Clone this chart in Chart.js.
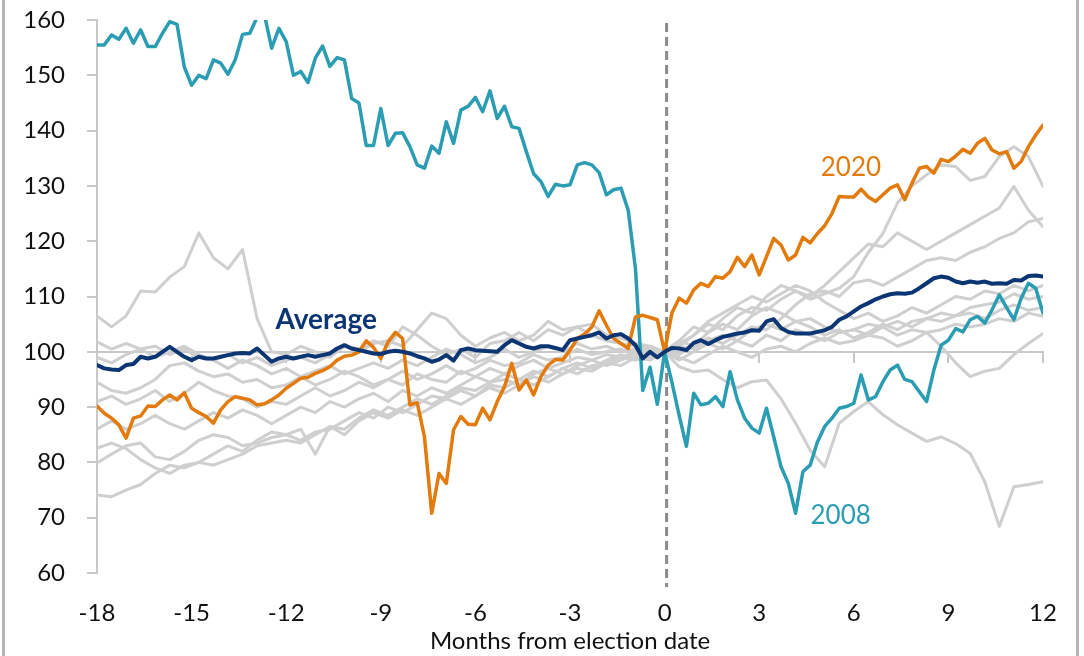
<!DOCTYPE html>
<html>
<head>
<meta charset="utf-8">
<script src="https://cdn.jsdelivr.net/npm/chart.js@4.4.1/dist/chart.umd.min.js"></script>
<style>
  html, body { margin: 0; padding: 0; background: #fff; }
  #wrap { position: relative; width: 1084px; height: 656px; }
  .edge { position: absolute; top: 0; width: 3px; height: 656px; background: #b4b4b4; }
</style>
</head>
<body>
<div id="wrap">
  <canvas id="chart" width="1084" height="656"></canvas>
  <div class="edge" style="left:2px"></div>
  <div class="edge" style="left:1076px"></div>
</div>
<script>
// weeks relative to election day: 78 weeks before (-18 months) to 52 after (+12 months)
const FIRST_WEEK = -78;
const LAST_WEEK = 52;
const WEEKS_PER_QUARTER = 13;
const electionWeek = 0;

const xTickLabels = ["-18", "-15", "-12", "-9", "-6", "-3", "0", "3", "6", "9", "12"];
const yMin = 60;
const yMax = 160;
const yStep = 10;
const xTitle = "Months from election date";

const weeklyX = [];
for (let w = FIRST_WEEK; w <= LAST_WEEK; w += 1) weeklyX.push(w);
const biweeklyX = [];
for (let w = FIRST_WEEK; w <= LAST_WEEK; w += 2) biweeklyX.push(w);

// highlighted cycles, weekly values (indexed, election day = 100)
const cycle2008 = [
  155.5, 155.5, 157.3, 156.5, 158.5, 155.8, 158.2, 155.2, 155.2, 157.6,
  159.7, 159.2, 151.5, 148.2, 150.0, 149.4, 152.8, 152.2, 150.2, 152.8,
  157.4, 157.6, 160.5, 161.0, 154.9, 158.5, 156.1, 150.0, 150.7, 148.7,
  153.1, 155.3, 151.6, 153.2, 152.8, 145.8, 145.0, 137.3, 137.3, 144.0,
  137.3, 139.5, 139.6, 137.1, 133.8, 133.2, 137.2, 135.9, 141.6, 137.7,
  143.7, 144.4, 146.0, 143.4, 147.2, 142.2, 144.4, 140.7, 140.4, 136.2,
  132.2, 130.8, 128.1, 130.3, 130.0, 130.2, 133.8, 134.2, 133.8, 132.4,
  128.4, 129.3, 129.6, 125.6, 115.0, 93.0, 97.2, 90.5, 100.0,
  94.5, 88.5, 82.9, 92.5, 90.4, 90.7, 91.9, 90.1, 96.4, 91.3,
  88.0, 86.2, 85.3, 89.8, 84.6, 79.2, 76.2, 70.8, 78.3, 79.5,
  83.7, 86.5, 88.0, 89.8, 90.1, 90.7, 95.8, 91.3, 91.9, 94.6,
  96.7, 97.6, 95.0, 94.6, 92.8, 91.0, 96.7, 101.2, 102.1, 104.2,
  103.6, 105.8, 106.4, 105.2, 107.6, 110.3, 108.0, 105.8, 109.7, 112.4,
  111.5, 107.0
];

const cycle2020 = [
  90.2, 88.9, 88.0, 86.8, 84.4, 88.0, 88.4, 90.2, 90.1, 91.3,
  92.2, 91.3, 92.6, 89.8, 89.0, 88.3, 87.1, 89.5, 91.0, 91.9,
  91.6, 91.3, 90.4, 90.6, 91.3, 92.2, 93.4, 94.3, 95.2, 95.4,
  96.1, 96.6, 97.3, 98.5, 99.2, 99.4, 100.0, 102.0, 100.8, 98.8,
  101.8, 103.5, 102.4, 90.4, 90.8, 84.6, 70.8, 78.0, 76.2, 85.9,
  88.3, 86.9, 86.8, 89.8, 87.7, 91.0, 93.7, 97.9, 93.1, 94.9,
  92.2, 95.5, 97.6, 98.6, 98.5, 100.3, 102.4, 103.2, 104.5, 107.4,
  104.8, 102.4, 101.5, 100.6, 106.3, 106.6, 106.2, 105.8, 100.0,
  107.0, 109.7, 108.8, 111.2, 112.4, 111.8, 113.6, 113.3, 114.5, 117.1,
  115.4, 117.5, 113.9, 117.2, 120.5, 119.3, 116.6, 117.5, 120.7, 119.7,
  121.4, 122.8, 125.0, 128.1, 128.0, 128.0, 129.4, 128.0, 127.2, 128.4,
  129.6, 130.2, 127.5, 130.5, 133.2, 133.5, 132.3, 134.8, 134.4, 135.4,
  136.6, 135.9, 137.7, 138.6, 136.5, 135.8, 136.2, 133.2, 134.4, 137.1,
  139.2, 141.0
];

const cycleAverage = [
  97.6, 97.0, 96.8, 96.7, 97.6, 97.8, 99.1, 98.8, 99.1, 100.0,
  100.9, 100.0, 99.1, 98.5, 99.1, 98.8, 98.8, 99.1, 99.4, 99.7,
  99.8, 99.7, 100.6, 99.4, 98.2, 98.8, 99.1, 98.8, 99.1, 99.4,
  99.1, 99.4, 99.7, 100.6, 101.2, 100.6, 100.3, 100.0, 99.7, 99.6,
  100.0, 100.2, 100.0, 99.7, 99.2, 98.8, 98.2, 98.6, 99.4, 98.4,
  100.3, 100.6, 100.3, 100.2, 100.1, 100.0, 101.2, 102.1, 101.5, 100.9,
  100.6, 101.0, 101.0, 100.7, 100.3, 102.1, 102.4, 102.7, 103.0, 103.5,
  102.4, 103.0, 103.2, 102.4, 101.2, 98.8, 100.0, 99.0, 100.0,
  100.7, 100.6, 100.3, 101.6, 102.1, 101.4, 102.1, 102.7, 103.0, 103.3,
  103.5, 103.9, 103.8, 105.5, 105.9, 104.3, 103.6, 103.3, 103.3, 103.3,
  103.6, 103.9, 104.5, 105.8, 106.4, 107.3, 108.2, 108.8, 109.5, 110.0,
  110.4, 110.6, 110.5, 110.7, 111.5, 112.4, 113.3, 113.6, 113.4, 112.7,
  112.4, 112.7, 112.5, 112.7, 112.3, 112.4, 112.3, 113.0, 112.9, 113.7,
  113.8, 113.6
];

// other election cycles, every second week
const otherA = [
  106.5, 104.5, 106.5, 111.0, 110.8, 113.5, 115.4, 121.5, 117.0, 115.0,
  118.5, 106.0, 100.0, 99.5, 101.0, 100.0, 99.0, 101.0, 100.5, 102.0,
  101.0, 104.5, 103.0, 101.0, 99.5, 100.5, 99.0, 101.5, 102.0, 103.5,
  102.0, 104.0, 103.0, 104.5, 103.0, 102.0, 101.5, 101.0, 100.5, 100.0,
  101.0, 100.5, 102.0, 103.0, 102.0, 104.0, 105.0, 104.0, 105.5, 106.0,
  104.5, 103.5, 104.0, 105.0, 104.5, 103.0, 104.0, 103.5, 101.0, 98.0,
  95.5, 96.5, 97.0, 99.5, 101.5, 103.3
];
const otherB = [
  101.8, 100.5, 101.5, 100.5, 101.0, 99.5, 100.5, 99.0, 98.5, 99.5,
  98.0, 99.0, 97.5, 98.5, 99.0, 98.0, 99.5, 101.0, 100.0, 101.5,
  102.0, 101.0, 104.0, 107.0, 106.0, 103.0, 101.0, 102.5, 103.5, 102.0,
  103.0, 105.5, 104.0, 104.5, 105.0, 103.0, 102.5, 101.5, 101.0, 100.0,
  102.0, 104.5, 103.5, 106.0, 108.0, 107.0, 110.0, 112.0, 111.0, 109.5,
  110.5, 111.5, 113.6, 118.0, 121.4, 126.9, 130.0, 132.0, 133.8, 133.5,
  131.0, 131.7, 135.3, 137.1, 135.3, 129.9
];
const otherC = [
  94.5, 93.0, 92.5, 93.5, 95.0, 97.5, 98.0, 96.5, 95.5, 96.0,
  94.5, 95.0, 93.5, 94.0, 95.5, 94.0, 95.0, 96.5, 95.5, 94.0,
  95.0, 96.5, 95.0, 96.0, 97.5, 96.0, 97.0, 98.5, 97.5, 98.0,
  99.5, 98.5, 99.0, 100.5, 99.5, 100.0, 100.5, 99.5, 100.0, 100.0,
  101.5, 103.0, 105.5, 107.0, 108.5, 110.0, 109.0, 110.5, 112.0, 111.0,
  109.0, 107.5, 106.0, 107.0, 105.5, 106.5, 108.0, 107.0, 108.5, 110.0,
  109.5, 111.0, 110.5, 112.0, 111.0, 112.0
];
const otherD = [
  91.0, 92.0, 90.5, 91.5, 93.0, 91.0, 92.5, 94.5, 93.0, 92.0,
  91.5, 90.0, 91.0, 90.5, 92.0, 93.5, 92.0, 93.0, 94.5, 93.5,
  95.0, 94.0, 96.0, 95.0, 94.5, 96.5, 95.5, 97.0, 96.0, 97.5,
  98.5, 97.0, 98.0, 99.0, 98.5, 99.5, 99.0, 100.0, 99.5, 100.0,
  101.0, 103.0, 105.0, 104.0, 106.5, 108.0, 107.5, 109.5, 111.0, 110.0,
  112.0, 114.5, 117.0, 119.5, 119.0, 121.5, 120.0, 118.5, 120.0, 121.5,
  123.0, 124.5, 126.0, 129.9, 125.6, 122.6
];
const otherE = [
  82.6, 83.5, 82.5, 80.5, 79.0, 78.0, 79.5, 80.0, 81.5, 83.0,
  82.0, 84.0, 85.5, 85.0, 86.0, 81.5, 86.5, 85.0, 87.5, 89.0,
  88.0, 89.5, 88.5, 90.0, 91.5, 90.5, 92.0, 93.5, 92.5, 94.0,
  95.5, 94.5, 96.0, 97.0, 96.5, 98.0, 99.0, 98.5, 99.5, 100.0,
  97.3, 96.4, 96.7, 95.0, 93.5, 94.6, 94.9, 91.5, 87.1, 82.2,
  79.2, 87.1, 89.2, 91.0, 88.6, 86.8, 85.3, 83.8, 84.6, 83.4,
  81.6, 76.5, 68.4, 75.6, 76.0, 76.5
];
const otherF = [
  79.9, 81.5, 83.0, 83.5, 81.0, 80.5, 82.0, 84.0, 85.0, 84.5,
  83.0, 83.5, 84.5, 85.0, 84.0, 85.5, 86.0, 87.5, 89.0, 88.0,
  90.0, 89.0, 90.5, 92.0, 91.5, 93.0, 92.0, 94.0, 93.5, 95.0,
  94.0, 95.5, 97.0, 96.0, 97.5, 98.0, 97.5, 99.0, 98.5, 100.0,
  99.5, 101.0, 102.5, 101.5, 103.0, 104.5, 104.0, 106.0, 108.5, 110.5,
  111.0, 110.0, 112.5, 113.0, 112.0, 113.5, 115.0, 116.5, 117.0, 116.5,
  118.0, 119.0, 120.5, 121.5, 123.5, 124.1
];
const otherG = [
  74.1, 73.8, 75.0, 76.0, 78.0, 79.5, 79.0, 80.0, 79.5, 80.5,
  81.5, 83.0, 83.5, 84.0, 83.5, 85.0, 86.5, 86.0, 88.0, 89.5,
  88.5, 90.0, 91.5, 90.5, 92.0, 93.5, 93.0, 94.5, 95.0, 94.0,
  96.0, 97.0, 96.0, 97.5, 98.5, 97.5, 98.5, 99.5, 99.0, 100.0,
  102.0, 101.0, 103.5, 105.0, 104.0, 106.5, 108.0, 107.0, 105.5, 104.5,
  103.0, 104.0, 102.5, 103.5, 105.0, 104.0, 105.5, 106.0, 107.0, 106.5,
  108.0, 108.5, 109.0, 110.5, 109.5, 110.0
];
const otherH = [
  99.0, 98.0, 99.5, 100.5, 99.0, 100.0, 101.0, 99.5, 98.5, 97.0,
  98.5, 97.5, 96.0, 97.0, 95.5, 96.5, 97.5, 96.0, 97.0, 98.0,
  97.0, 98.5, 97.5, 99.0, 100.5, 99.5, 98.0, 99.0, 100.5, 99.0,
  100.0, 101.0, 100.0, 101.5, 100.5, 101.0, 100.0, 100.5, 100.0, 100.0,
  99.0, 98.0, 99.5, 101.0, 100.0, 99.0, 100.5, 101.0, 100.0, 101.5,
  102.5, 101.5, 102.0, 103.0, 102.5, 101.0, 102.0, 103.5, 104.0, 105.0,
  104.5, 105.0, 106.0, 105.5, 107.0, 106.4
];
const otherI = [
  86.0, 87.5, 86.0, 87.0, 88.5, 87.0, 86.0, 87.5, 89.0, 88.0,
  89.5, 88.5, 87.0, 88.5, 90.0, 89.0, 91.0, 90.0, 91.5, 92.5,
  91.0, 93.0, 92.0, 93.5, 92.5, 94.0, 95.5, 94.5, 96.0, 95.0,
  96.5, 95.5, 97.0, 98.0, 97.0, 98.5, 99.5, 98.5, 99.5, 100.0,
  98.5, 100.0, 101.5, 100.5, 102.0, 101.0, 103.0, 102.0, 104.0, 103.0,
  102.0, 103.5, 104.0, 103.0, 104.5, 105.5, 104.5, 106.0, 105.5, 106.5,
  107.0, 106.0, 107.5, 108.5, 107.5, 108.0
];
const otherCycles = [otherA, otherB, otherC, otherD, otherE, otherF, otherG, otherH, otherI];

const seriesColors = {
  y2008: "#2a9db3",
  y2020: "#e27a0c",
  average: "#0c3673",
  other: "#cfcfcf"
};

const callouts = [
  { text: "Average", week: -46.5, value: 105.8, color: seriesColors.average, weight: "bold", size: 28 },
  { text: "2020", week: 25.6, value: 133.3, color: seriesColors.y2020, weight: "normal", size: 26 },
  { text: "2008", week: 24.2, value: 70.3, color: seriesColors.y2008, weight: "normal", size: 26 }
];

const FONT = "Lato, 'Noto Sans', sans-serif";

function toPoints(xs, ys) {
  return ys.map((v, i) => ({ x: xs[i], y: v }));
}

const datasets = [
  { label: "Average", data: toPoints(weeklyX, cycleAverage), borderColor: seriesColors.average, borderWidth: 4, order: 0 },
  { label: "2020", data: toPoints(weeklyX, cycle2020), borderColor: seriesColors.y2020, borderWidth: 3.5, order: 1 },
  { label: "2008", data: toPoints(weeklyX, cycle2008), borderColor: seriesColors.y2008, borderWidth: 3.5, order: 2 }
];
otherCycles.forEach((values, i) => {
  datasets.push({
    label: "other " + (i + 1),
    data: toPoints(biweeklyX, values),
    borderColor: seriesColors.other,
    borderWidth: 3,
    order: 3
  });
});
datasets.forEach((ds) => {
  ds.pointRadius = 0;
  ds.tension = 0;
  ds.fill = false;
  ds.borderJoinStyle = "round";
  ds.borderCapStyle = "round";
});

const electionLinePlugin = {
  id: "electionLine",
  beforeDatasetsDraw(chart) {
    const { ctx, chartArea, scales } = chart;
    const px = scales.x.getPixelForValue(electionWeek) + 2;
    ctx.save();
    ctx.strokeStyle = "#8a8a8a";
    ctx.lineWidth = 3;
    ctx.setLineDash([9, 5]);
    ctx.beginPath();
    ctx.moveTo(px, chartArea.top + 3);
    ctx.lineTo(px, chartArea.bottom + 14);
    ctx.stroke();
    ctx.restore();
  },
  afterDatasetsDraw(chart) {
    const { ctx, scales } = chart;
    ctx.save();
    ctx.textAlign = "center";
    ctx.textBaseline = "middle";
    callouts.forEach((c) => {
      ctx.font = `${c.weight} ${c.size}px ${FONT}`;
      ctx.fillStyle = c.color;
      ctx.fillText(c.text, scales.x.getPixelForValue(c.week), scales.y.getPixelForValue(c.value));
    });
    ctx.restore();
  }
};

new Chart(document.getElementById("chart"), {
  type: "line",
  data: { datasets },
  plugins: [electionLinePlugin],
  options: {
    responsive: false,
    animation: false,
    events: [],
    layout: { padding: { top: 20, right: 41, bottom: 0, left: 0 } },
    plugins: { legend: { display: false }, tooltip: { enabled: false } },
    scales: {
      x: {
        type: "linear",
        position: "bottom",
        min: FIRST_WEEK,
        max: LAST_WEEK,
        grid: { display: false },
        border: { display: false },
        ticks: {
          stepSize: WEEKS_PER_QUARTER,
          maxRotation: 0,
          autoSkip: false,
          padding: 18,
          color: "#111",
          font: { family: FONT, size: 24 },
          callback: (value) => xTickLabels[(value - FIRST_WEEK) / WEEKS_PER_QUARTER]
        },
        title: {
          display: true,
          text: xTitle,
          color: "#111",
          font: { family: FONT, size: 24 },
          padding: { top: 0, bottom: 0 }
        },
        afterFit: (scale) => { scale.height = 83; }
      },
      xAxisLine: {
        type: "linear",
        axis: "x",
        position: { y: 100 },
        min: FIRST_WEEK,
        max: LAST_WEEK,
        grid: { display: true, drawOnChartArea: false, drawTicks: true, tickLength: 10, color: "#c8c8c8", lineWidth: 2 },
        border: { display: true, color: "#c8c8c8", width: 2 },
        ticks: { stepSize: WEEKS_PER_QUARTER, display: false }
      },
      y: {
        min: yMin,
        max: yMax,
        grid: { drawOnChartArea: false, tickLength: 10, color: "#c8c8c8", lineWidth: 2 },
        border: { display: true, color: "#c8c8c8", width: 2 },
        ticks: {
          stepSize: yStep,
          padding: 22,
          color: "#111",
          font: { family: FONT, size: 24 }
        },
        afterFit: (scale) => {
          scale.width = 97;
          // the label gap should not push the plot area down
          scale.paddingTop = 0;
          scale.paddingBottom = 0;
        }
      }
    }
  }
});
</script>
</body>
</html>
